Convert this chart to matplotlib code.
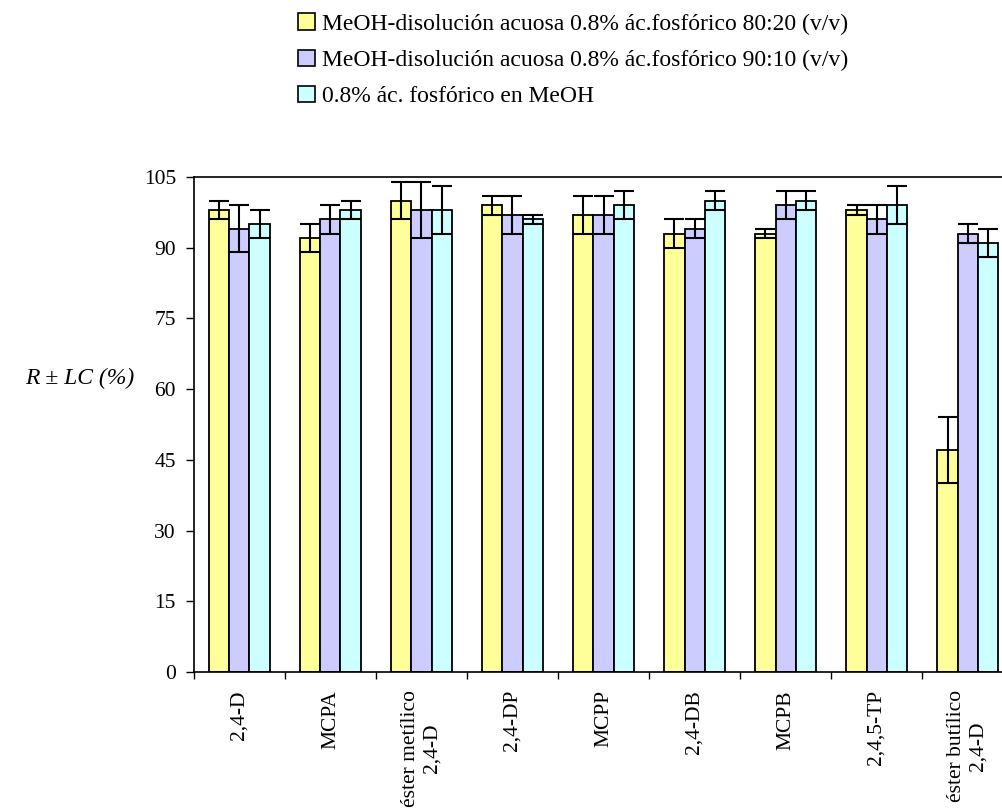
import numpy as np
import matplotlib
matplotlib.use('Agg')
import matplotlib.pyplot as plt
from matplotlib.patches import Patch

plt.rcParams['font.family'] = ['Liberation Serif', 'DejaVu Serif']

# compuestos (eje x)
compuestos = ['2,4-D', 'MCPA', 'éster metílico\n2,4-D', '2,4-DP', 'MCPP',
              '2,4-DB', 'MCPB', '2,4,5-TP', 'éster butílico\n2,4-D']

series = ['MeOH-disolución acuosa 0.8% ác.fosfórico 80:20 (v/v)',
          'MeOH-disolución acuosa 0.8% ác.fosfórico 90:10 (v/v)',
          '0.8% ác. fosfórico en MeOH']

# recuperaciones R (%) y limites de confianza LC
r_8020 = [98, 92, 100, 99, 97, 93, 93, 98, 47]
lc_8020 = [2, 3, 4, 2, 4, 3, 1, 1, 7]
r_9010 = [94, 96, 98, 97, 97, 94, 99, 96, 93]
lc_9010 = [5, 3, 6, 4, 4, 2, 3, 3, 2]
r_meoh = [95, 98, 98, 96, 99, 100, 100, 99, 91]
lc_meoh = [3, 2, 5, 1, 3, 2, 2, 4, 3]

colores = ['#FFFF99', '#CCCCFF', '#CCFFFF']

fig = plt.figure(figsize=(10.03, 8.09), dpi=100)
ax = fig.add_axes([0.1934, 0.1693, 1.0100 - 0.1934, 0.7812 - 0.1693])

x = np.arange(len(compuestos))
w = 0.22
datos = [(r_8020, lc_8020), (r_9010, lc_9010), (r_meoh, lc_meoh)]
for k, (r, lc) in enumerate(datos):
    ax.bar(x + (k - 1) * w, r, w, color=colores[k], edgecolor='black',
           linewidth=1.3, label=series[k], zorder=2)
    ax.errorbar(x + (k - 1) * w, r, yerr=lc, fmt='none', ecolor='black',
                elinewidth=1.5, capsize=7.5, capthick=1.5, zorder=3)

ax.set_xlim(-0.5, len(compuestos) - 0.5)
ax.set_ylim(0, 105)
ax.set_yticks(np.arange(0, 106, 15))
ax.tick_params(axis='y', direction='out', length=6, width=1, labelsize=15.5, pad=7)

# etiquetas centradas, marcas en los limites entre categorias
ax.set_xticks(x)
ax.set_xticklabels(compuestos, rotation=90, fontsize=15.5, va='top',
                   ha='center', multialignment='center')
ax.tick_params(axis='x', which='major', length=0, pad=13)
ax.set_xticks(np.arange(-0.5, len(compuestos) - 0.4, 1), minor=True)
ax.tick_params(axis='x', which='minor', direction='out', length=5, width=1)

for s in ax.spines.values():
    s.set_linewidth(1.2)

fig.text(0.025, 1 - 378 / 809, r'R ± LC (%)', fontsize=17, style='italic',
         ha='left', va='center')

handles = [Patch(facecolor=c, edgecolor='black', linewidth=1.2) for c in colores]
fig.legend(handles, series, loc='upper left', bbox_to_anchor=(0.288, 0.995),
           frameon=False, fontsize=17, handlelength=0.7, handleheight=0.7,
           handletextpad=0.3, labelspacing=0.62, borderaxespad=0)

fig.savefig('out.png', dpi=100)
